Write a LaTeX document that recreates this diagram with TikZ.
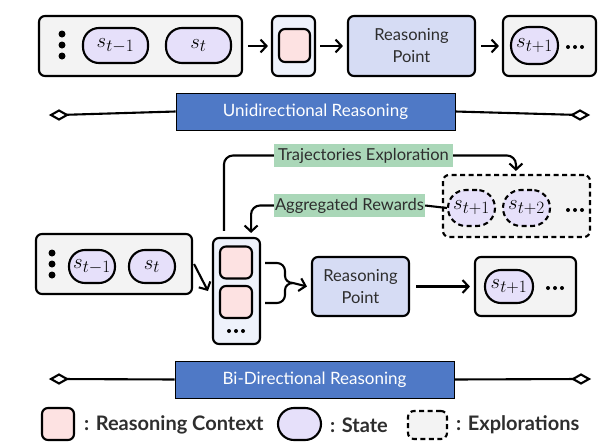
\documentclass[tikz,border=0pt]{standalone}
\usepackage{fontspec}
\setmainfont{Lato}
\DeclareMathSizes{21}{21}{16.5}{12}
\usetikzlibrary{arrows.meta,calc}
\definecolor{boxgray}{HTML}{F3F3F3}
\definecolor{statefill}{HTML}{E6E0FA}
\definecolor{ctxfill}{HTML}{FDE2E2}
\definecolor{ctxbox}{HTML}{EEF2FB}
\definecolor{rpfill}{HTML}{D6DCF4}
\definecolor{banner}{HTML}{4F79C6}
\definecolor{lab}{HTML}{AAD7B8}
\definecolor{txt}{HTML}{2E2E2E}
\tikzset{
  lw/.style={line width=2.1pt},
  gbox/.style={lw, draw=black, fill=boxgray, rounded corners=6pt, inner sep=0pt},
  cbox/.style={lw, draw=black, fill=ctxbox, rounded corners=6pt, inner sep=0pt},
  pbox/.style={lw, draw=black, fill=ctxfill, rounded corners=6pt, inner sep=0pt, minimum width=32pt, minimum height=32pt},
  rpbox/.style={lw, draw=black, fill=rpfill, rounded corners=6pt, inner sep=0pt, align=center, text=txt, font=\fontsize{16.5}{22}\selectfont},
  st/.style={lw, draw=black, fill=statefill, rounded corners=16pt, inner sep=0pt, font=\fontsize{21}{21}\selectfont},
  dsh/.style={dash pattern=on 5pt off 3.5pt},
  arr/.style={lw, -{Straight Barb[length=6pt,width=13pt,line width=2.1pt]}},
  bannerbox/.style={draw=black, line width=0.8pt, fill=banner, text=white, inner sep=0pt, font=\fontsize{17}{17}\selectfont},
  labbox/.style={fill=lab, inner sep=0pt, text=txt, font=\fontsize{16.5}{16.5}\selectfont},
  dot/.style={fill=black, circle, inner sep=0pt, minimum size=7pt},
  sdot/.style={fill=black, circle, inner sep=0pt, minimum size=4pt},
  legt/.style={anchor=west, text=txt, font=\bfseries\fontsize{20}{20}\selectfont, inner sep=0pt},
}
\begin{document}
\begin{tikzpicture}[x=1pt,y=-1pt]
\useasboundingbox (0,0) rectangle (598,442);
% ---------- top row ----------
\node[gbox, minimum width=203pt, minimum height=60pt] (t1) at (140.5,46) {};
\node[dot] (td1) at (62,34) {};
\node[dot] (td2) at (62,45) {};
\node[dot] (td3) at (62,56) {};
\node[st, minimum width=65pt, minimum height=35pt] (ts1) at (115.5,45.5) {$s_{t-1}$};
\node[st, minimum width=65pt, minimum height=35pt] (ts2) at (198.5,45.5) {$s_{t}$};
\node[cbox, minimum width=43pt, minimum height=60pt] (tc) at (293.5,46) {};
\node[pbox, minimum width=31pt, minimum height=33pt] (tcp) at (294.5,45.5) {};
\node[rpbox, minimum width=127pt, minimum height=60pt] (trp) at (411.5,46) {Reasoning\\Point};
\node[gbox, minimum width=93pt, minimum height=60pt] (tn) at (549.5,46) {};
\node[st, minimum width=47pt, minimum height=37pt, rounded corners=18pt] (ts3) at (534.5,45.5) {$s_{t+1}$};
\node[sdot] (tnd1) at (568,47) {};
\node[sdot] (tnd2) at (575,47) {};
\node[sdot] (tnd3) at (582,47) {};
\draw[arr] ($(t1.east)+(5,0)$) -- ($(tc.west)+(-3,0)$);
\draw[arr] ($(tc.east)+(4,0)$) -- ($(trp.west)+(-4,0)$);
\draw[arr] ($(trp.east)+(5,0)$) -- ($(tn.west)+(-3,0)$);
% ---------- unidirectional banner ----------
\coordinate (ul) at (59,115);
\coordinate (ur) at (580,115);
\node[bannerbox, minimum width=279pt, minimum height=37pt] (ub) at (315.5,111.5) {Unidirectional Reasoning};
\draw[lw] (ul) -- (ub.west);
\draw[lw] (ub.east) -- (ur);
\draw[lw, fill=white] (51,115) -- (59,110.5) -- (67,115) -- (59,119.5) -- cycle;
\draw[lw, fill=white] (572,115) -- (580,110.5) -- (588,115) -- (580,119.5) -- cycle;
% ---------- bottom ----------
\node[gbox, minimum width=156pt, minimum height=60pt] (b1) at (114,264) {};
\node[dot] (bd1) at (52,253) {};
\node[dot] (bd2) at (52,264) {};
\node[dot] (bd3) at (52,275) {};
\node[st, minimum width=46pt, minimum height=33pt] (bs1) at (92,266.5) {$s_{t-1}$};
\node[st, minimum width=46pt, minimum height=33pt] (bs2) at (152,266.5) {$s_{t}$};
\node[cbox, minimum width=47pt, minimum height=106pt] (bc) at (236.5,291) {};
\node[pbox] (bp1) at (236,262.5) {};
\node[pbox] (bp2) at (236,302) {};
\node[sdot] (bcd1) at (229,331) {};
\node[sdot] (bcd2) at (236,331) {};
\node[sdot] (bcd3) at (243,331) {};
\node[rpbox, minimum width=97pt, minimum height=59pt] (brp) at (360.5,286.5) {Reasoning\\Point};
\node[gbox, minimum width=101pt, minimum height=59pt] (bn) at (525.5,286.5) {};
\node[st, minimum width=48pt, minimum height=33pt] (bs3) at (509,286.5) {$s_{t+1}$};
\node[sdot] (bnd1) at (548,288) {};
\node[sdot] (bnd2) at (555,288) {};
\node[sdot] (bnd3) at (562,288) {};
% explorations
\node[gbox, dsh, minimum width=147pt, minimum height=62pt] (ex) at (516.5,206) {};
\node[st, dsh, minimum width=47pt, minimum height=36pt, rounded corners=18pt] (es1) at (471.5,208) {$s_{t+1}$};
\node[st, dsh, minimum width=47pt, minimum height=36pt, rounded corners=18pt] (es2) at (526.5,208) {$s_{t+2}$};
\node[sdot] (exd1) at (568,210) {};
\node[sdot] (exd2) at (575,210) {};
\node[sdot] (exd3) at (582,210) {};
% labels
\node[labbox, minimum width=179pt, minimum height=23pt] (lt) at (363.5,155.5) {Trajectories Exploration};
\node[labbox, minimum width=151pt, minimum height=23pt] (la) at (349.5,205.5) {Aggregated Rewards};
% connectors
\draw[arr] ($(b1.east)+(1,0)$) -- ($(bc.west)+(-4,0)$);
\draw[lw, rounded corners=9pt] ($(bc.north west)+(12,-6)$) |- (lt.west);
\draw[arr, rounded corners=9pt] (lt.east) -| ($(ex.north west)+(74,-3)$);
\draw[lw] (es1.west) -- (la.east);
\draw[arr, rounded corners=9pt] (la.west) -| ($(bc.north east)+(-10,-4)$);
% brace
\coordinate (brt) at (265,263);
\coordinate (brb) at (265,303);
\coordinate (brtip) at (293,283);
\draw[lw] (brt) -- (277,263) to[out=0,in=90] (285,271) -- (285,276) to[out=-90,in=180] (brtip);
\draw[lw] (brb) -- (277,303) to[out=0,in=-90] (285,295) -- (285,290) to[out=90,in=180] (brtip);
\draw[arr] (brtip) -- ($(brp.west)+(-4,0)$);
\draw[arr] ($(brp.east)+(6,0)$) -- ($(bn.west)+(-4,0)$);
% ---------- bidirectional banner ----------
\coordinate (bl) at (59,379);
\coordinate (br) at (581,379);
\node[bannerbox, minimum width=279pt, minimum height=37pt] (bb) at (314.5,379.5) {Bi-Directional Reasoning};
\draw[lw] (bl) -- (bb.west);
\draw[lw] (bb.east) -- (br);
\draw[lw, fill=white] (51,379) -- (59,374.5) -- (67,379) -- (59,383.5) -- cycle;
\draw[lw, fill=white] (573,379) -- (581,374.5) -- (589,379) -- (581,383.5) -- cycle;
% ---------- legend ----------
\node[pbox, minimum width=32pt, minimum height=32pt] (lg1) at (58,424) {};
\node[legt] (lg1t) at (84,425) {: Reasoning Context};
\node[st, minimum width=43pt, minimum height=32pt, fill=statefill] (lg2) at (299.5,424) {};
\node[legt] (lg2t) at (330,425) {: State};
\node[gbox, dsh, minimum width=39pt, minimum height=28pt] (lg3) at (427.5,425) {};
\node[legt] (lg3t) at (456,425) {: Explorations};
\end{tikzpicture}
\end{document}
